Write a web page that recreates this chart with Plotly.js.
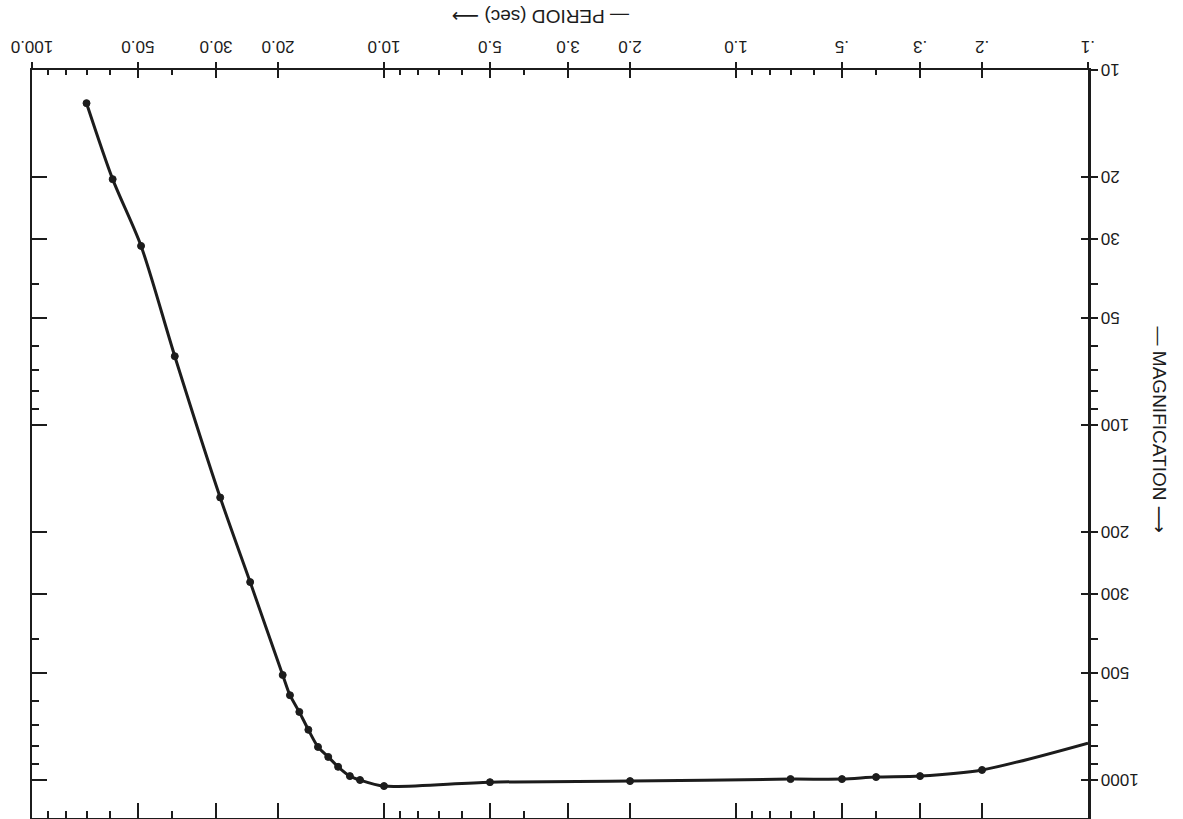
<!DOCTYPE html>
<html>
<head>
<meta charset="utf-8">
<script src="https://cdn.plot.ly/plotly-3.0.1.min.js"></script>
<style>
  html, body { margin: 0; padding: 0; background: #ffffff; overflow: hidden; }
  #wrap { width: 1183px; height: 819px; transform: rotate(180deg); transform-origin: 50% 50%; }
  #chart { width: 1183px; height: 819px; }
</style>
</head>
<body>
<div id="wrap"><div id="chart"></div></div>
<script>
// ---- data (period in seconds, magnification) ----
var period = [70, 59, 49, 39.3, 29.2, 24, 19.4, 18.5, 17.4, 16.4, 15.4, 14.4, 13.5, 12.5, 11.7, 10, 5, 2, 0.7, 0.5, 0.4, 0.3, 0.2, 0.1];
var magnification = [12.4, 20.3, 31.3, 64, 160, 277, 506, 577, 643, 722, 807, 861, 918, 975, 1000, 1040, 1014, 1007, 994, 994, 981, 975, 937, 787];
var plottedPoint = [true, true, true, true, true, true, true, true, true, true, true, true, true, true, true, true, true, true, true, true, true, true, true, false];

var xMajorVals = [0.1, 0.2, 0.3, 0.5, 1, 2, 3, 5, 10, 20, 30, 50, 100];
var xMajorText = [".1", ".2", ".3", ".5", "1.0", "2.0", "3.0", "5.0", "10.0", "20.0", "30.0", "50.0", "100.0"];
var xMinorVals = [0.4, 0.6, 0.7, 0.8, 0.9, 4, 6, 7, 8, 9, 40, 60, 70, 80, 90];

var yMajorVals = [10, 20, 30, 50, 100, 200, 300, 500, 1000];
var yMajorText = ["10", "20", "30", "50", "100", "200", "300", "500", "1000"];
var yMinorVals = [40, 60, 70, 80, 90, 400, 600, 700, 800, 900];

var xTitle = "— PERIOD (sec) ⟶";
var yTitle = "— MAGNIFICATION ⟶";

// ---- styling ----
var ink = "#1c1c1c";
var fontFamily = "'Liberation Sans', Arial, 'DejaVu Sans', sans-serif";
var xRange = [-1, 2];
var yRange = [1, 3.107];

var markerSizes = plottedPoint.map(function (p) { return p ? 7 : 0; });

var traces = [
  {
    x: period, y: magnification, xaxis: "x", yaxis: "y",
    type: "scatter", mode: "lines+markers",
    line: { color: ink, width: 3, shape: "spline", smoothing: 0.8 },
    marker: { color: ink, size: markerSizes, opacity: 1, line: { color: ink, width: 1 } },
    hoverinfo: "x+y", showlegend: false
  },
  { x: [], y: [], xaxis: "x2", yaxis: "y2", type: "scatter", mode: "lines", showlegend: false, hoverinfo: "skip" },
  { x: [], y: [], xaxis: "x3", yaxis: "y3", type: "scatter", mode: "lines", showlegend: false, hoverinfo: "skip" }
];

function baseAxis(extra) {
  var a = {
    type: "log", autorange: false, showgrid: false, zeroline: false,
    showline: true, linecolor: ink, linewidth: 2.5,
    tickcolor: ink, tickwidth: 2, fixedrange: true
  };
  for (var k in extra) a[k] = extra[k];
  return a;
}

var layout = {
  width: 1183, height: 819,
  margin: { l: 95, r: 32, t: 1, b: 70, pad: 0 },
  paper_bgcolor: "#ffffff", plot_bgcolor: "#ffffff",
  showlegend: false,
  font: { family: fontFamily, color: ink, size: 17 },
  // labelled period axis (bottom): major ticks crossing, minor ticks inside
  xaxis: baseAxis({
    range: xRange, side: "bottom", anchor: "y",
    tickmode: "array", tickvals: xMajorVals, ticktext: xMajorText,
    ticks: "outside", ticklen: 6,
    tickfont: { family: fontFamily, size: 17, color: ink }
  }),
  xaxis2: baseAxis({
    range: xRange, side: "bottom", anchor: "y2", overlaying: "x",
    tickmode: "array", tickvals: xMajorVals, showticklabels: false,
    ticks: "inside", ticklen: 8,
    minor: { tickmode: "array", tickvals: xMinorVals, ticks: "inside", ticklen: 5, tickwidth: 2, tickcolor: ink }
  }),
  xaxis3: baseAxis({
    range: xRange, side: "top", anchor: "y3", overlaying: "x",
    tickmode: "array", tickvals: xMajorVals, showticklabels: false,
    ticks: "inside", ticklen: 15,
    minor: { tickmode: "array", tickvals: xMinorVals, ticks: "inside", ticklen: 7, tickwidth: 2, tickcolor: ink }
  }),
  // labelled magnification axis (left): major crossing, minor outside
  yaxis: baseAxis({
    range: yRange, side: "left", anchor: "x",
    tickmode: "array", tickvals: yMajorVals, ticktext: yMajorText,
    ticks: "outside", ticklen: 7,
    tickfont: { family: fontFamily, size: 17, color: ink },
    minor: { tickmode: "array", tickvals: yMinorVals, ticks: "outside", ticklen: 7, tickwidth: 2, tickcolor: ink }
  }),
  yaxis2: baseAxis({
    range: yRange, side: "left", anchor: "x2", overlaying: "y",
    tickmode: "array", tickvals: yMajorVals, showticklabels: false,
    ticks: "inside", ticklen: 7
  }),
  yaxis3: baseAxis({
    range: yRange, side: "right", anchor: "x3", overlaying: "y",
    tickmode: "array", tickvals: yMajorVals, showticklabels: false,
    ticks: "inside", ticklen: 15,
    minor: { tickmode: "array", tickvals: yMinorVals, ticks: "inside", ticklen: 7, tickwidth: 2, tickcolor: ink }
  }),
  annotations: [
    {
      text: xTitle, xref: "paper", yref: "paper", x: 0.518, y: -0.072,
      xanchor: "center", yanchor: "middle", showarrow: false,
      font: { family: fontFamily, size: 19, color: ink }
    },
    {
      text: yTitle, xref: "paper", yref: "paper", x: -0.068, y: 0.481,
      xanchor: "center", yanchor: "middle", showarrow: false, textangle: -90,
      font: { family: fontFamily, size: 19, color: ink }
    }
  ]
};

Plotly.newPlot("chart", traces, layout, { displayModeBar: false, staticPlot: true });
</script>
</body>
</html>
